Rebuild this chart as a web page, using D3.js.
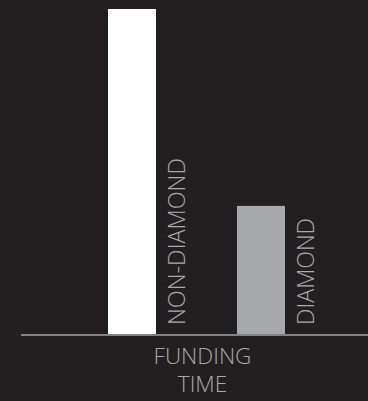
<!DOCTYPE html>
<html>
<head>
<meta charset="utf-8">
<script src="https://cdn.jsdelivr.net/npm/d3@7"></script>
<style>
  html, body { margin: 0; padding: 0; background: #231f20; }
  svg { display: block; }
  text { font-family: "Open Sans", "Noto Sans", sans-serif; font-weight: 300; }
</style>
</head>
<body>
<svg id="chart" width="368" height="401"></svg>
<script>
// Funding time by company type
const categories = ["NON-DIAMOND", "DIAMOND"];
const values = [100, 39.6];
const barColors = ["#ffffff", "#a7a9ac"];
const axisTitle = ["FUNDING", "TIME"];

const W = 368, H = 401;
const baseY = 335, topY = 9;

const svg = d3.select("#chart");

const x = d3.scaleBand()
  .domain(categories)
  .range([108, 285])
  .paddingInner(0.628)
  .paddingOuter(0);

const y = d3.scaleLinear()
  .domain([0, 100])
  .range([baseY, topY]);

// baseline
svg.append("line")
  .attr("x1", 21).attr("x2", W)
  .attr("y1", baseY).attr("y2", baseY)
  .attr("stroke", "#808285")
  .attr("stroke-width", 2);

// bars
svg.selectAll("rect.bar")
  .data(categories)
  .join("rect")
  .attr("class", "bar")
  .attr("x", d => x(d))
  .attr("width", x.bandwidth())
  .attr("y", (d, i) => y(values[i]))
  .attr("height", (d, i) => y(0) - y(values[i]) - 1)
  .attr("fill", (d, i) => barColors[i]);

// rotated category labels beside each bar
const labelLen = { "NON-DIAMOND": 167, "DIAMOND": 107 };
svg.selectAll("text.cat")
  .data(categories)
  .join("text")
  .attr("class", "cat")
  .attr("transform", d => `translate(${x(d) + x.bandwidth() + 29},325) rotate(-90)`)
  .attr("font-size", 24)
  .attr("fill", "#a7a9ac")
  .attr("textLength", d => labelLen[d])
  .attr("lengthAdjust", "spacingAndGlyphs")
  .text(d => d);

// axis title under the baseline
svg.selectAll("text.title")
  .data(axisTitle)
  .join("text")
  .attr("class", "title")
  .attr("x", 202.5)
  .attr("y", (d, i) => 364 + i * 28)
  .attr("text-anchor", "middle")
  .attr("font-size", 22.5)
  .attr("fill", "#a7a9ac")
  .text(d => d);
</script>
</body>
</html>
